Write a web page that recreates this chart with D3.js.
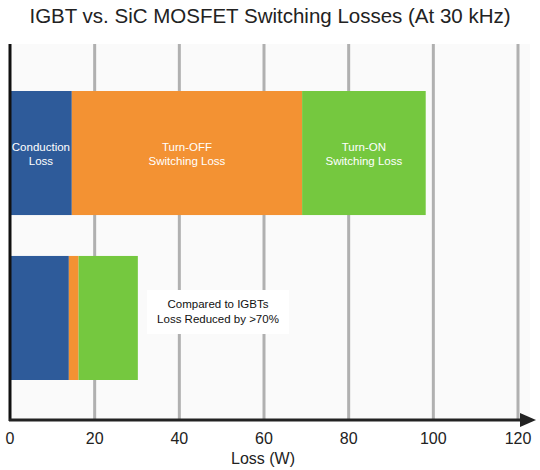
<!DOCTYPE html><html><head><meta charset="utf-8">
<script src="https://cdn.jsdelivr.net/npm/d3@7"></script>
<style>body{margin:0;background:#fff}</style></head><body><svg id="c" width="540" height="470"></svg>
<script>
const devices=["IGBT","SiC MOSFET"];
const segments=["Conduction Loss","Turn-OFF Switching Loss","Turn-ON Switching Loss"];
const conduction=[14.6,13.9];
const turnOff=[54.4,2.3];
const turnOn=[29.2,14.0];
const ticks=[0,20,40,60,80,100,120];
const colors=["#2e5b9a","#f39233","#75c83f"];
const segLabels=[["Conduction","Loss"],["Turn-OFF","Switching Loss"],["Turn-ON","Switching Loss"]];
const svg=d3.select("#c");
const F="Liberation Sans, Arial, sans-serif";
const x=d3.scaleLinear().domain([0,120]).range([10,518]);
const y=d3.scaleBand().domain(devices).range([91,380]).paddingInner(0.248).paddingOuter(0);
svg.append("rect").attr("x",10).attr("y",44).attr("width",520).attr("height",376).attr("fill","#fafafa");
svg.append("text").attr("x",270).attr("y",23).attr("text-anchor","middle").attr("font-family",F).attr("font-size",20.5).attr("fill","#222").text("IGBT vs. SiC MOSFET Switching Losses (At 30 kHz)");
svg.selectAll(".g").data(ticks.slice(1)).join("line").attr("x1",d=>x(d)).attr("x2",d=>x(d)).attr("y1",44).attr("y2",420).attr("stroke","#b0b0b0").attr("stroke-width",3);
const vals=[conduction,turnOff,turnOn];
devices.forEach((dv,i)=>{let acc=0;vals.forEach((arr,s)=>{const v=arr[i];
svg.append("rect").attr("x",x(acc)).attr("y",y(dv)).attr("width",x(acc+v)-x(acc)).attr("height",y.bandwidth()).attr("fill",colors[s]);
if(i===0){const t=svg.append("text").attr("x",(x(acc)+x(acc+v))/2).attr("y",y(dv)+y.bandwidth()/2-2).attr("text-anchor","middle").attr("font-family",F).attr("font-size",11.5).attr("fill","#fff");
segLabels[s].forEach((l,k)=>t.append("tspan").attr("x",(x(acc)+x(acc+v))/2).attr("dy",k?14:0).text(l));}
acc+=v;});});
svg.append("rect").attr("x",147).attr("y",290).attr("width",142).attr("height",44).attr("fill","#fff");
const nt=svg.append("text").attr("x",218).attr("y",308).attr("text-anchor","middle").attr("font-family",F).attr("font-size",11.5).attr("fill","#111");
nt.append("tspan").attr("x",218).text("Compared to IGBTs");nt.append("tspan").attr("x",218).attr("dy",15).text("Loss Reduced by >70%");
svg.append("line").attr("x1",10).attr("x2",10).attr("y1",44).attr("y2",421).attr("stroke","#111").attr("stroke-width",3);
svg.append("line").attr("x1",9).attr("x2",524).attr("y1",420).attr("y2",420).attr("stroke","#222").attr("stroke-width",3);
svg.append("path").attr("d","M520,413 L536,420 L520,427 Z").attr("fill","#222");
svg.selectAll(".t").data(ticks).join("text").attr("x",d=>x(d)).attr("y",444).attr("text-anchor","middle").attr("font-family",F).attr("font-size",16).attr("fill","#222").text(d=>d);
svg.append("text").attr("x",263).attr("y",464).attr("text-anchor","middle").attr("font-family",F).attr("font-size",16).attr("fill","#222").text("Loss (W)");
</script></body></html>
